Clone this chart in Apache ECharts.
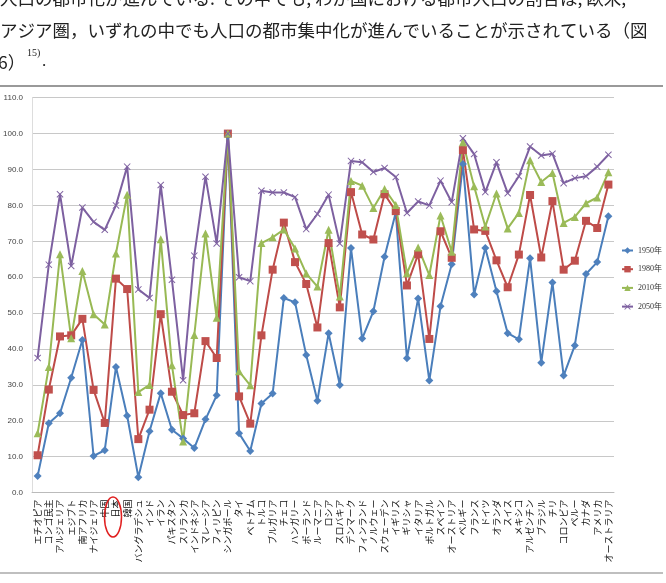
<!DOCTYPE html>
<html>
<head>
<meta charset="utf-8">
<script src="https://cdn.jsdelivr.net/npm/echarts@6/dist/echarts.min.js"></script>
<style>
  html, body { margin: 0; padding: 0; background: #fff; }
  #main { width: 666px; height: 583px; }
</style>
</head>
<body>
<div id="main"></div>
<script>
// 国名（横軸）
const countries = ['エチオピア','コンゴ民主','アルジェリア','エジプト','南アフリカ','ナイジェリア','中国','日本','韓国',
  'バングラデシュ','インド','イラン','パキスタン','スリランカ','インドネシア','マレーシア','フィリピン','シンガポール',
  'タイ','ベトナム','トルコ','ブルガリア','チェコ','ハンガリー','ポーランド','ルーマニア','ロシア','スロバキア',
  'デンマーク','フィンランド','ノルウェー','スウェーデン','イギリス','ギリシャ','イタリア','ポルトガル','スペイン',
  'オーストリア','ベルギー','フランス','ドイツ','オランダ','スイス','メキシコ','アルゼンチン','ブラジル','チリ',
  'コロンビア','ペルー','カナダ','アメリカ','オーストラリア']

// 都市人口の割合（%）
const y1950 = [4.6, 19.3, 22.1, 32.0, 42.5, 10.2, 11.8, 35.0, 21.4, 4.3, 17.1, 27.7, 17.5, 15.1, 12.4, 20.4, 27.1, 99.4,
  16.5, 11.6, 24.8, 27.6, 54.2, 53.0, 38.3, 25.6, 44.4, 30.0, 68.1, 42.9, 50.5, 65.7, 78.0, 37.4, 54.1, 31.2, 51.9,
  63.6, 91.5, 55.2, 68.1, 56.1, 44.4, 42.7, 65.3, 36.2, 58.5, 32.6, 41.0, 60.9, 64.2, 77.0]
const y1980 = [10.4, 28.7, 43.5, 43.8, 48.4, 28.6, 19.4, 59.6, 56.7, 14.9, 23.1, 49.7, 28.1, 21.6, 22.1, 42.2, 37.5, 100.0,
  26.8, 19.2, 43.8, 62.1, 75.2, 64.2, 58.1, 46.0, 69.5, 51.6, 83.7, 71.9, 70.5, 83.1, 78.4, 57.7, 66.4, 42.8, 72.8,
  65.4, 95.4, 73.3, 72.9, 64.7, 57.2, 66.3, 82.9, 65.5, 81.2, 62.1, 64.6, 75.7, 73.7, 85.8]
const y2010 = [16.5, 35.0, 66.4, 43.0, 61.7, 49.7, 46.8, 66.6, 83.0, 28.0, 30.0, 70.6, 35.5, 14.2, 43.9, 72.2, 48.7, 100.0,
  33.8, 29.9, 69.5, 71.1, 73.3, 68.0, 61.0, 57.4, 73.2, 54.6, 86.8, 85.5, 79.3, 84.6, 80.1, 61.1, 68.3, 60.6, 77.2,
  67.1, 97.6, 85.3, 74.1, 83.3, 73.6, 77.9, 92.6, 86.5, 89.0, 75.1, 76.8, 80.6, 82.2, 89.2]
const y2050 = [37.5, 63.5, 83.1, 63.1, 79.4, 75.4, 73.2, 80.0, 90.8, 56.6, 54.2, 85.7, 59.3, 31.3, 66.0, 88.0, 69.4, 100.0,
  60.0, 58.9, 84.1, 83.6, 83.6, 82.3, 73.4, 77.6, 83.0, 69.4, 92.4, 92.0, 89.3, 90.4, 87.9, 77.9, 81.1, 80.0, 86.9,
  80.9, 98.7, 94.3, 83.7, 92.0, 83.4, 88.1, 96.4, 93.9, 94.4, 86.2, 87.6, 88.1, 90.8, 94.1]

const years = ['1950年', '1980年', '2010年', '2050年']

// ×印のマーカー
const crossPath = 'path://M0,1L1,0L5,4L9,0L10,1L6,5L10,9L9,10L5,6L1,10L0,9L4,5Z'

const jpFont = '"Noto Sans CJK JP"'

function makeSeries(name, data, symbol, size, color, lineColor) {
  return {
    name: name,
    type: 'line',
    data: data,
    symbol: symbol,
    symbolSize: size,
    lineStyle: { color: lineColor, width: 2 },
    itemStyle: { color: color },
    emphasis: { disabled: true }
  }
}

let myChart = echarts.init(document.getElementById('main'))
let option = {
  animation: false,
  backgroundColor: '#fff',
  graphic: [
    { type: 'text', x: 0, y: -2, style: { text: '人口の都市化が進んでいる. その中でも, わが国における都市人口の割合は, 欧米,', font: '17.5px ' + jpFont, fill: '#222', verticalAlign: 'middle' } },
    { type: 'text', x: 0, y: 30, style: { text: 'アジア圏，いずれの中でも人口の都市集中化が進んでいることが示されている（図', font: '17.5px ' + jpFont, fill: '#222', verticalAlign: 'middle' } },
    { type: 'text', x: -2, y: 62, style: { text: '6）', font: '17.5px ' + jpFont, fill: '#222', verticalAlign: 'middle' } },
    { type: 'text', x: 27, y: 53, style: { text: '15)', font: '10px "Liberation Serif"', fill: '#222', verticalAlign: 'middle' } },
    { type: 'text', x: 42, y: 62, style: { text: '.', font: '17px "Liberation Serif"', fill: '#222', verticalAlign: 'middle' } },
    { type: 'line', shape: { x1: 0, y1: 86, x2: 663, y2: 86 }, style: { stroke: '#999', lineWidth: 2 } },
    { type: 'line', shape: { x1: 0, y1: 573, x2: 663, y2: 573 }, style: { stroke: '#aaa', lineWidth: 1.5 } },
    // 日本を囲む赤い楕円
    { type: 'ellipse', shape: { cx: 113, cy: 517, rx: 8.5, ry: 20 }, style: { fill: 'none', stroke: '#e02020', lineWidth: 1.5 }, z: 10 }
  ],
  grid: { left: 27, right: 52, top: 97.7, bottom: 90.4 },
  legend: {
    data: years,
    orient: 'vertical',
    left: 621,
    top: 245,
    padding: 0,
    itemWidth: 11,
    itemHeight: 8,
    itemGap: 7.7,
    textStyle: { fontSize: 8, lineHeight: 11, color: '#333', fontFamily: '"Liberation Serif", ' + jpFont }
  },
  xAxis: {
    type: 'category',
    data: countries,
    boundaryGap: true,
    axisLine: { lineStyle: { color: '#bbb' } },
    axisTick: { length: 4, lineStyle: { color: '#bbb' } },
    axisLabel: { rotate: 90, interval: 0, margin: 7, fontSize: 9, color: '#111', fontFamily: jpFont }
  },
  yAxis: {
    type: 'value',
    min: 0,
    max: 110,
    interval: 10,
    axisLine: { show: true, lineStyle: { color: '#ddd' } },
    axisTick: { show: false },
    splitLine: { lineStyle: { color: '#c8c8c8' } },
    axisLabel: { fontSize: 8, color: '#444', margin: 9, formatter: v => v.toFixed(1) }
  },
  series: [
    makeSeries(years[0], y1950, 'diamond', 8, '#4F81BD', '#4A7EBB'),
    makeSeries(years[1], y1980, 'rect', 8, '#C0504D', '#BE4B48'),
    makeSeries(years[2], y2010, 'triangle', 8, '#9BBB59', '#98B954'),
    makeSeries(years[3], y2050, crossPath, 7, '#8064A2', '#7D60A0')
  ]
}
myChart.setOption(option)
</script>
</body>
</html>
